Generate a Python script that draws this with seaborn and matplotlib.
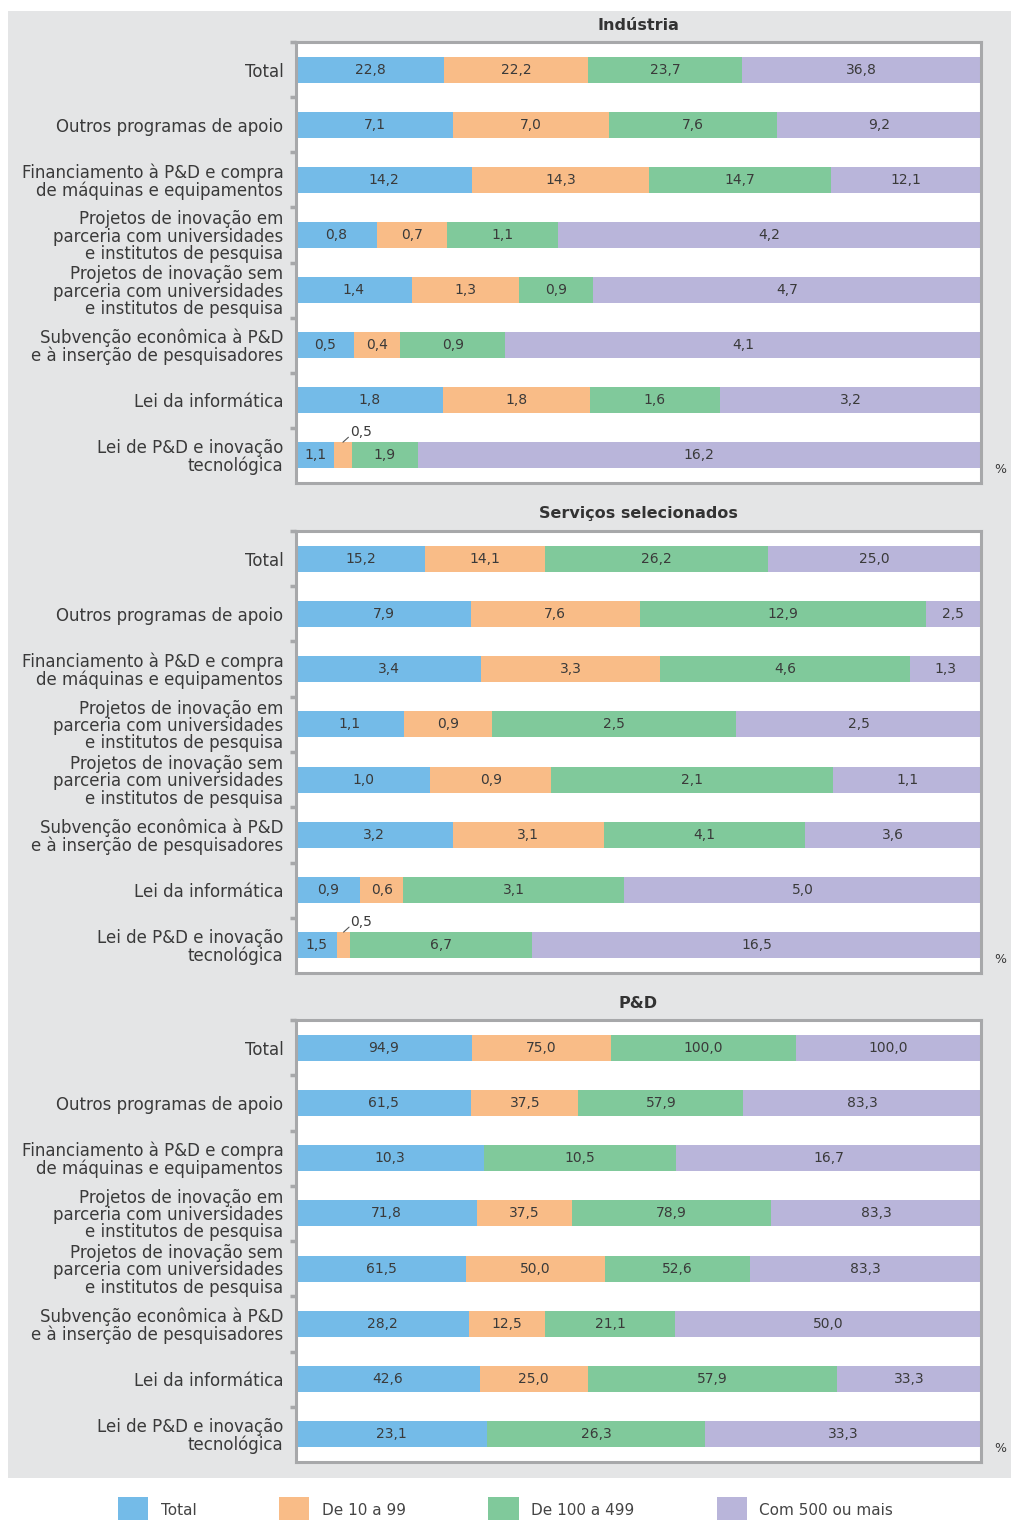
import matplotlib
matplotlib.use("Agg")
import matplotlib.pyplot as plt
from matplotlib.patches import Rectangle, Patch
from matplotlib.ticker import FixedLocator
import seaborn as sns
import pandas as pd

sns.set_theme(style="white")
plt.rcParams["font.family"] = ["DejaVu Sans"]

# categories (rows) and series (company size)
categories = [
    "Total",
    "Outros programas de apoio",
    "Financiamento à P&D e compra\nde máquinas e equipamentos",
    "Projetos de inovação em\nparceria com universidades\ne institutos de pesquisa",
    "Projetos de inovação sem\nparceria com universidades\ne institutos de pesquisa",
    "Subvenção econômica à P&D\ne à inserção de pesquisadores",
    "Lei da informática",
    "Lei de P&D e inovação\ntecnológica",
]
series = ["Total", "De 10 a 99", "De 100 a 499", "Com 500 ou mais"]
colors = ["#74bbe8", "#f9bc87", "#80c99b", "#b9b5da"]

industria_total = [22.8, 7.1, 14.2, 0.8, 1.4, 0.5, 1.8, 1.1]
industria_10_99 = [22.2, 7.0, 14.3, 0.7, 1.3, 0.4, 1.8, 0.5]
industria_100_499 = [23.7, 7.6, 14.7, 1.1, 0.9, 0.9, 1.6, 1.9]
industria_500 = [36.8, 9.2, 12.1, 4.2, 4.7, 4.1, 3.2, 16.2]

servicos_total = [15.2, 7.9, 3.4, 1.1, 1.0, 3.2, 0.9, 1.5]
servicos_10_99 = [14.1, 7.6, 3.3, 0.9, 0.9, 3.1, 0.6, 0.5]
servicos_100_499 = [26.2, 12.9, 4.6, 2.5, 2.1, 4.1, 3.1, 6.7]
servicos_500 = [25.0, 2.5, 1.3, 2.5, 1.1, 3.6, 5.0, 16.5]

ped_total = [94.9, 61.5, 10.3, 71.8, 61.5, 28.2, 42.6, 23.1]
ped_10_99 = [75.0, 37.5, 0.0, 37.5, 50.0, 12.5, 25.0, 0.0]
ped_100_499 = [100.0, 57.9, 10.5, 78.9, 52.6, 21.1, 57.9, 26.3]
ped_500 = [100.0, 83.3, 16.7, 83.3, 83.3, 50.0, 33.3, 33.3]

panels = [
    ("Indústria", [industria_total, industria_10_99, industria_100_499, industria_500]),
    ("Serviços selecionados", [servicos_total, servicos_10_99, servicos_100_499, servicos_500]),
    ("P&D", [ped_total, ped_10_99, ped_100_499, ped_500]),
]

W, H = 1011, 1520
fig = plt.figure(figsize=(W / 100, H / 100), dpi=100)
fig.patch.set_facecolor("white")
fig.patches.append(Rectangle((8 / W, 1 - 1478 / H), 1 - 8 / W, (1478 - 11) / H,
                             transform=fig.transFigure, facecolor="#e4e5e6",
                             edgecolor="none", zorder=-5))

# axes boxes in pixels: (top, bottom)
boxes = [(42, 483), (531, 973), (1020, 1462)]
x0, x1 = 296, 981
frame = "#a7a8aa"
txt = "#3a3a3a"

for (title, vals), (top, bot) in zip(panels, boxes):
    ax = fig.add_axes([x0 / W, 1 - bot / H, (x1 - x0) / W, (bot - top) / H])
    ax.set_zorder(2)
    ax.set_facecolor("white")
    df = pd.DataFrame(dict(zip(series, vals)), index=categories)
    share = df.div(df.sum(axis=1), axis=0)
    cum = share.cumsum(axis=1)

    # draw cumulative layers from the widest to the narrowest
    for s, c in reversed(list(zip(series, colors))):
        d = pd.DataFrame({"cat": categories, "val": cum[s].values})
        sns.barplot(data=d, x="val", y="cat", order=categories, color=c,
                    saturation=1, width=0.47, linewidth=0, orient="h", ax=ax)

    # value labels
    for i, cat in enumerate(categories):
        left = 0.0
        for s in series:
            v = df.loc[cat, s]
            w = share.loc[cat, s]
            if v > 0:
                lab = f"{v:.1f}".replace(".", ",")
                xc = left + w / 2
                if w < 0.04:
                    ax.plot([xc, xc + 0.008], [i - 0.24, i - 0.33], color="#555555", lw=0.8)
                    ax.text(xc + 0.026, i - 0.42, lab, ha="center", va="center",
                            fontsize=10, color=txt)
                else:
                    ax.text(xc, i, lab, ha="center", va="center", fontsize=10, color=txt)
            left += w

    ax.set_xlim(0, 1)
    ax.set_ylim(7.5, -0.5)
    ax.set_xlabel("")
    ax.set_ylabel("")
    ax.set_xticks([])
    ax.tick_params(axis="y", which="major", length=0, pad=9, labelsize=12, labelcolor=txt)
    ax.yaxis.set_minor_locator(FixedLocator([k - 0.5 for k in range(8)]))
    ax.tick_params(axis="y", which="minor", left=True, length=4, width=2.5, color=frame)
    for lab in ax.get_yticklabels():
        lab.set_linespacing(0.95)
        lab.set_y(lab.get_position()[1])
    for sp in ax.spines.values():
        sp.set_visible(True)
        sp.set_color(frame)
        sp.set_linewidth(2.2)
    ax.set_title(title, fontsize=11.5, fontweight="bold", color="#333333", pad=9)
    ax.text(1.028, 0.03, "%", transform=ax.transAxes, fontsize=9, color=txt,
            ha="center", va="center")

handles = [Patch(facecolor=c, edgecolor="none", label=s) for s, c in zip(series, colors)]
fig.legend(handles=handles, loc="center", bbox_to_anchor=(0.5, 1 - 1510 / H), ncol=4,
           frameon=False, fontsize=11, handlelength=2.0, handleheight=2.2,
           handletextpad=0.8, columnspacing=5.4, labelcolor="#444444")

fig.savefig("out.png", dpi=100, facecolor="white")
